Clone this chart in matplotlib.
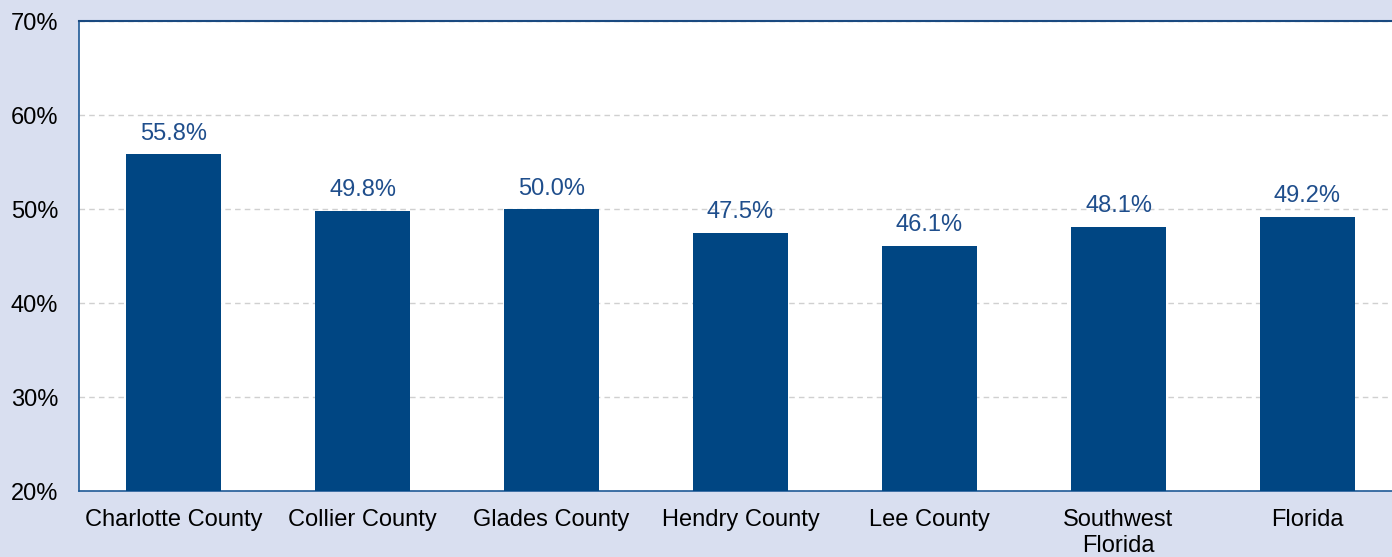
import matplotlib
matplotlib.use("Agg")
import matplotlib.pyplot as plt
from matplotlib.ticker import FuncFormatter

categories = ["Charlotte County", "Collier County", "Glades County", "Hendry County",
              "Lee County", "Southwest\nFlorida", "Florida"]
values = [55.8, 49.8, 50.0, 47.5, 46.1, 48.1, 49.2]
yticks = [20, 30, 40, 50, 60, 70]

plt.rcParams['font.family'] = ['Liberation Sans', 'DejaVu Sans']

bg = '#d9dff0'
bar_color = '#004683'
label_color = '#1f4e8c'
spine_color = '#1f5a96'

fig = plt.figure(figsize=(13.92, 5.57), dpi=100, facecolor=bg)
ax = fig.add_axes([79/1392, 1 - 491/557, 1323/1392, 470/557])
ax.set_facecolor('white')

x = list(range(len(categories)))
ax.bar(x, values, width=0.5, color=bar_color, zorder=3)
for xi, v in zip(x, values):
    ax.text(xi, v + 1.0, f"{v:.1f}%", ha='center', va='bottom', color=label_color, fontsize=17)

ax.set_xlim(-0.5, len(categories) - 0.5)
ax.set_ylim(20, 70)
ax.set_yticks(yticks)
ax.yaxis.set_major_formatter(FuncFormatter(lambda v, p: f"{v:.0f}%"))
ax.set_xticks(x)
ax.set_xticklabels(categories, fontsize=17, linespacing=1.25)
ax.tick_params(axis='y', labelsize=17, length=0, pad=15)
ax.tick_params(axis='x', length=0, pad=13)
ax.grid(axis='y', color='#d0d0d0', linestyle=(0, (4, 3)), linewidth=1, zorder=0)

for s in ['left', 'bottom']:
    ax.spines[s].set_color(spine_color)
    ax.spines[s].set_linewidth(1.2)
ax.spines['top'].set_color('#1a4a80')
ax.spines['top'].set_linewidth(1.5)
ax.spines['right'].set_visible(False)

fig.savefig('out.png', dpi=100, facecolor=bg)
